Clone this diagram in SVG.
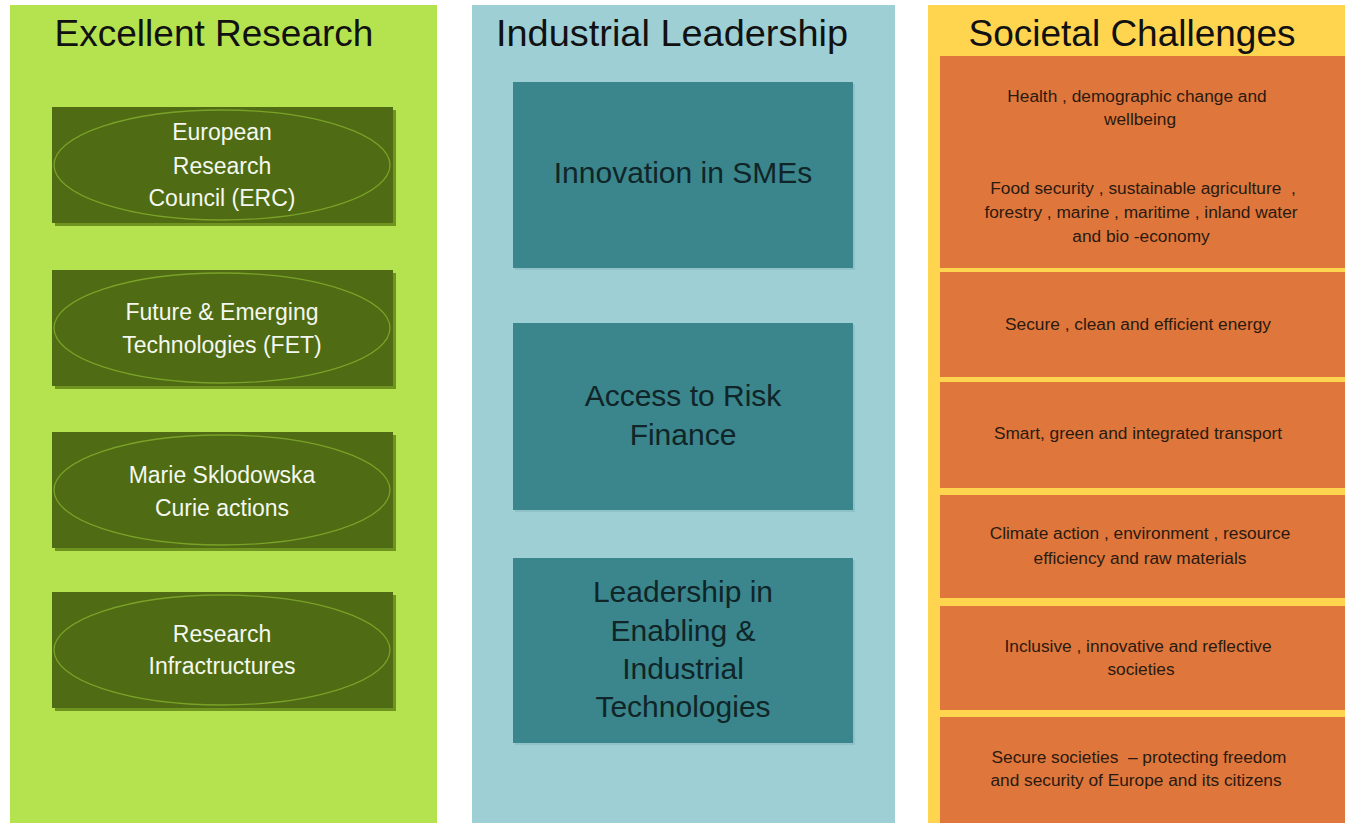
<svg xmlns="http://www.w3.org/2000/svg" width="1345" height="823" viewBox="0 0 1345 823">
<style>
.title{font-family:"Liberation Sans",Arial,sans-serif;font-size:37px;fill:#111;text-anchor:middle}
.gt{font-family:"Liberation Sans",Arial,sans-serif;font-size:23px;fill:#f4f8ee;text-anchor:middle}
.bt{font-family:"Liberation Sans",Arial,sans-serif;font-size:30px;fill:#102528;text-anchor:middle}
.ot{font-family:"Liberation Sans",Arial,sans-serif;font-size:17.3px;fill:#2a1a10;text-anchor:middle}
.gbox{fill:#4f6b13}
.gsh{fill:#6f9420}
.ell{fill:none;stroke:#7aa228;stroke-width:1.3}
.bbox{fill:#3a868c}
.bsh{fill:#8ec2c8}
.obox{fill:#df763b}
</style>
<rect width="1345" height="823" fill="#ffffff"/>
<g id="panel-excellent">
<rect x="10" y="5" width="427" height="818" fill="#b5e34f"/>
<text class="title" x="214" y="46">Excellent Research</text>
</g>
<g id="panel-industrial">
<rect x="472" y="5" width="423" height="818" fill="#9dcfd5"/>
<text class="title" x="672" y="46" textLength="352" lengthAdjust="spacingAndGlyphs">Industrial Leadership</text>
</g>
<g id="panel-societal">
<rect x="928" y="5" width="417" height="818" fill="#ffd54f"/>
<text class="title" x="1132" y="46">Societal Challenges</text>
</g>
<g id="erc">
<rect class="gsh" x="55" y="110" width="341" height="116"/>
<rect class="gbox" x="52" y="107" width="341" height="116"/>
<ellipse class="ell" cx="222" cy="165" rx="168" ry="55"/>
<text class="gt" x="222" y="140">European</text>
<text class="gt" x="222" y="174">Research</text>
<text class="gt" x="222" y="206">Council (ERC)</text>
</g>
<g id="fet">
<rect class="gsh" x="55" y="273" width="341" height="116"/>
<rect class="gbox" x="52" y="270" width="341" height="116"/>
<ellipse class="ell" cx="222" cy="328" rx="168" ry="55"/>
<text class="gt" x="222" y="320">Future &amp; Emerging</text>
<text class="gt" x="222" y="353">Technologies (FET)</text>
</g>
<g id="msca">
<rect class="gsh" x="55" y="435" width="341" height="116"/>
<rect class="gbox" x="52" y="432" width="341" height="116"/>
<ellipse class="ell" cx="222" cy="490" rx="168" ry="55"/>
<text class="gt" x="222" y="483">Marie Sklodowska</text>
<text class="gt" x="222" y="516">Curie actions</text>
</g>
<g id="ri">
<rect class="gsh" x="55" y="595" width="341" height="116"/>
<rect class="gbox" x="52" y="592" width="341" height="116"/>
<ellipse class="ell" cx="222" cy="650" rx="168" ry="55"/>
<text class="gt" x="222" y="642">Research</text>
<text class="gt" x="222" y="674">Infractructures</text>
</g>
<g id="smes">
<rect class="bsh" x="515" y="84" width="340" height="186"/>
<rect class="bbox" x="513" y="82" width="340" height="186"/>
<text class="bt" x="683" y="183">Innovation in SMEs</text>
</g>
<g id="risk-finance">
<rect class="bsh" x="515" y="325" width="340" height="187"/>
<rect class="bbox" x="513" y="323" width="340" height="187"/>
<text class="bt" x="683" y="406">Access to Risk</text>
<text class="bt" x="683" y="445">Finance</text>
</g>
<g id="leit">
<rect class="bsh" x="515" y="560" width="340" height="185"/>
<rect class="bbox" x="513" y="558" width="340" height="185"/>
<text class="bt" x="683" y="602">Leadership in</text>
<text class="bt" x="683" y="641">Enabling &amp;</text>
<text class="bt" x="683" y="679">Industrial</text>
<text class="bt" x="683" y="717">Technologies</text>
</g>
<g id="health">
<rect class="obox" x="940" y="56" width="405" height="105"/>
<text class="ot" x="1137" y="102">Health , demographic change and</text>
<text class="ot" x="1140" y="125">wellbeing</text>
</g>
<g id="food">
<rect class="obox" x="940" y="160" width="405" height="108"/>
<text class="ot" x="1143" y="194" xml:space="preserve">Food security , sustainable agriculture  ,</text>
<text class="ot" x="1141" y="218">forestry , marine , maritime , inland water</text>
<text class="ot" x="1141" y="242">and bio -economy</text>
</g>
<g id="energy">
<rect class="obox" x="940" y="272" width="405" height="105"/>
<text class="ot" x="1138" y="330">Secure , clean and efficient energy</text>
</g>
<g id="transport">
<rect class="obox" x="940" y="382" width="405" height="106"/>
<text class="ot" x="1138" y="439">Smart, green and integrated transport</text>
</g>
<g id="climate">
<rect class="obox" x="940" y="495" width="405" height="103"/>
<text class="ot" x="1140" y="539">Climate action , environment , resource</text>
<text class="ot" x="1140" y="564">efficiency and raw materials</text>
</g>
<g id="inclusive">
<rect class="obox" x="940" y="606" width="405" height="104"/>
<text class="ot" x="1138" y="652">Inclusive , innovative and reflective</text>
<text class="ot" x="1141" y="675">societies</text>
</g>
<g id="secure-societies">
<rect class="obox" x="940" y="717" width="405" height="106"/>
<text class="ot" x="1139" y="763" xml:space="preserve">Secure societies  – protecting freedom</text>
<text class="ot" x="1136" y="786">and security of Europe and its citizens</text>
</g>
<g id="connectors"></g>
</svg>
